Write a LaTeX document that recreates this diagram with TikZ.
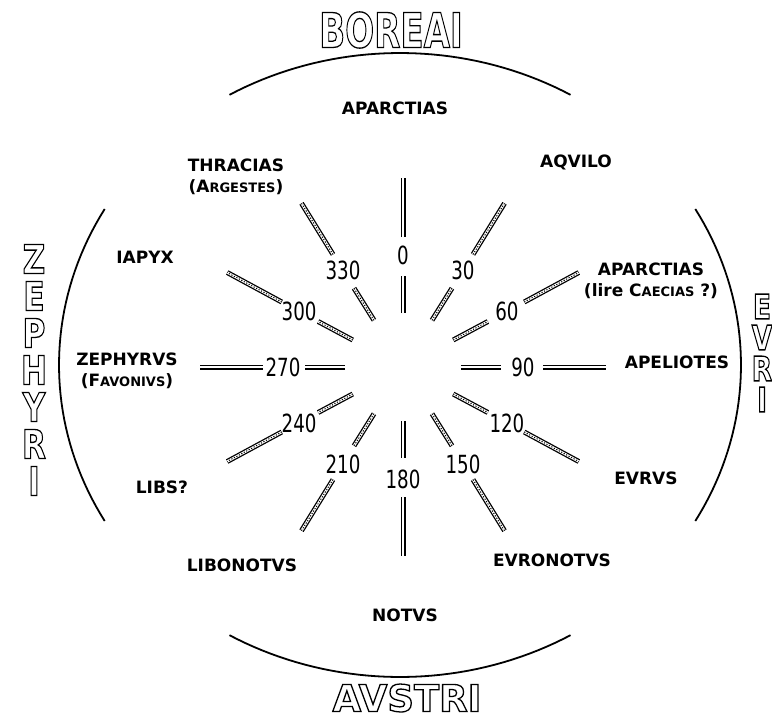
\documentclass[tikz,border=0pt]{standalone}
\usepackage{fontspec}
\setmainfont{DejaVu Sans}
\newcommand\outl[1]{\special{pdf:literal direct 1 Tr 1.3 w}#1\special{pdf:literal direct 0 Tr}}
\newcommand\tl[2]{\scalebox{#1}[1]{\outl{#2}}}
\newcommand\sm[1]{{\fontsize{13}{13}\selectfont #1}}
\tikzset{
  wind/.style={font=\bfseries\fontsize{17}{21}\selectfont, align=center, inner sep=0pt},
  deg/.style={font=\fontsize{25}{25}\selectfont, inner sep=0pt},
  bar/.style={double, double distance=2.4pt, line width=1.3pt},
  chain/.style={line width=1pt, dash pattern=on 1.2pt off 1.6pt},
  rim/.style={line width=1.8pt},
  quarter/.style={font=\bfseries\fontsize{#1}{#1}\selectfont, inner sep=0pt, align=center},
}
\begin{document}
\begin{tikzpicture}[x=1pt,y=-1pt]
\useasboundingbox (0,0) rectangle (772,724);
% rose of the winds
\foreach \t in {0,30,...,330}{
  \coordinate (i\t) at ({403+58*sin(\t)},{367-54*cos(\t)});
  \coordinate (j\t) at ({403+98*sin(\t)},{367-91*cos(\t)});
  \node[deg] (n\t) at ({403+120*sin(\t)},{367-112*cos(\t)}) {\scalebox{0.73}[1]{\t}};
  \coordinate (k\t) at ({403+140*sin(\t)},{367-130*cos(\t)});
  \coordinate (l\t) at ({403+203*sin(\t)},{367-189*cos(\t)});
  \draw[bar] (i\t) -- (j\t);
  \draw[bar] (k\t) -- (l\t);
}
\foreach \t in {30,60,120,150,210,240,300,330}{
  \draw[chain] (i\t) -- (j\t);
  \draw[chain] (k\t) -- (l\t);
}
% the four rims
\draw[rim] plot[domain=60:120, samples=40] ({400+341*cos(\x)},{365-312*sin(\x)});
\draw[rim] plot[domain=150:210, samples=40] ({400+341*cos(\x)},{365-312*sin(\x)});
\draw[rim] plot[domain=240:300, samples=40] ({400+341*cos(\x)},{365-312*sin(\x)});
\draw[rim] plot[domain=-30:30, samples=40] ({400+341*cos(\x)},{365-312*sin(\x)});
% winds
\node[wind] (aparctias) at (395,108) {APARCTIAS};
\node[wind] (aqvilo) at (576,162) {AQVILO};
\node[wind] (caecias) at (651,281) {APARCTIAS\\(lire C\sm{AECIAS} ?)};
\node[wind] (apeliotes) at (677,362) {APELIOTES};
\node[wind] (evrvs) at (646,478) {EVRVS};
\node[wind] (evronotvs) at (552,560) {EVRONOTVS};
\node[wind] (notvs) at (405,615) {NOTVS};
\node[wind] (libonotvs) at (242,565) {LIBONOTVS};
\node[wind] (libs) at (162,487) {LIBS?};
\node[wind] (zephyrvs) at (127,371) {ZEPHYRVS\\(F\sm{AVONIVS})};
\node[wind] (iapyx) at (145,257) {IAPYX};
\node[wind] (thracias) at (236,177) {THRACIAS\\(A\sm{RGESTES})};
% quarters
\node[quarter=48] (boreai) at (391,30) {\tl{0.71}{BOREAI}};
\node[quarter=37] (avstri) at (407,698) {\tl{1}{AVSTRI}};
\node[quarter=40, font=\bfseries\fontsize{40}{37}\selectfont] (zephyri) at (34,370)
  {\tl{.78}{Z}\\\tl{.78}{E}\\\tl{.78}{P}\\\tl{.78}{H}\\\tl{.78}{Y}\\\tl{.78}{R}\\\tl{.78}{I}};
\node[quarter=34, font=\bfseries\fontsize{34}{31}\selectfont] (evri) at (762,353)
  {\tl{.78}{E}\\\tl{.78}{V}\\\tl{.78}{R}\\\tl{.78}{I}};
\end{tikzpicture}
\end{document}
